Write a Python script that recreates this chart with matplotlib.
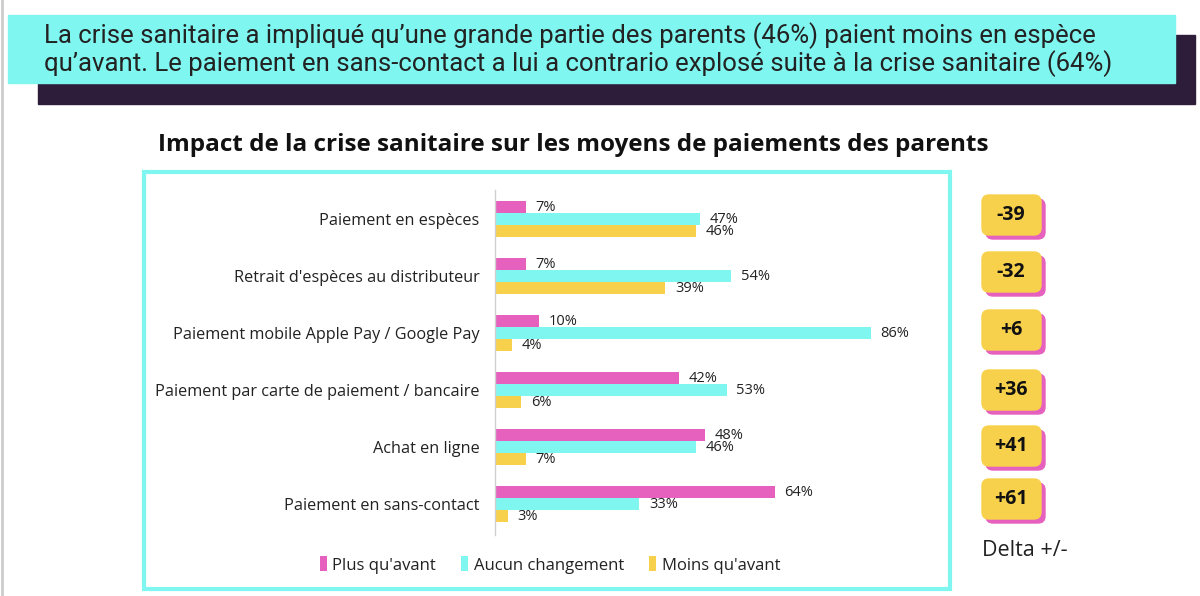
import matplotlib
matplotlib.use("Agg")
import matplotlib.pyplot as plt
from matplotlib.patches import Rectangle, FancyBboxPatch

# donnees
categories = [
    "Paiement en espèces",
    "Retrait d'espèces au distributeur",
    "Paiement mobile Apple Pay / Google Pay",
    "Paiement par carte de paiement / bancaire",
    "Achat en ligne",
    "Paiement en sans-contact",
]
plus = [7, 7, 10, 42, 48, 64]
aucun = [47, 54, 86, 53, 46, 33]
moins = [46, 39, 4, 6, 7, 3]
deltas = ["-39", "-32", "+6", "+36", "+41", "+61"]
series_names = ["Plus qu'avant", "Aucun changement", "Moins qu'avant"]

titre = "Impact de la crise sanitaire sur les moyens de paiements des parents"
bandeau = ["La crise sanitaire a impliqué qu’une grande partie des parents (46%) paient moins en espèce",
           "qu’avant. Le paiement en sans-contact a lui a contrario explosé suite à la crise sanitaire (64%)"]

ROSE = "#e660bd"
CYAN = "#80f6f1"
JAUNE = "#f8d14c"
SOMBRE = "#2d1d3a"
TEXTE = "#222222"

plt.rcParams['font.family'] = ['Open Sans', 'DejaVu Sans']

fig = plt.figure(figsize=(12, 5.96), dpi=100)

# fond en coordonnees pixel
bg = fig.add_axes([0, 0, 1, 1])
bg.set_xlim(0, 1200)
bg.set_ylim(596, 0)
bg.axis("off")

bg.plot([1.5, 1.5], [0, 596], color="#cccccc", lw=2)

# bandeau du haut
bg.add_patch(Rectangle((38, 35), 1157, 69, color=SOMBRE))
bg.add_patch(Rectangle((8, 15), 1167, 68, color=CYAN))
for i, ligne in enumerate(bandeau):
    bg.text(44, 36 + 28 * i, ligne, fontsize=18.5, color=TEXTE, va="center", ha="left",
            family=["Roboto", "DejaVu Sans"])

# titre
bg.text(573, 145, titre, fontsize=17.5, fontweight="bold", color="#111111",
        ha="center", va="center")

# cadre du graphique
bg.add_patch(Rectangle((144, 172), 806, 417, fill=False, ec=CYAN, lw=3))

# delta
ycat = [215, 272, 330, 390, 446, 499]
for yc, d in zip(ycat, deltas):
    bg.add_patch(FancyBboxPatch((986, yc - 16), 59, 40,
                                boxstyle="round,pad=0,rounding_size=7", color=ROSE))
    bg.add_patch(FancyBboxPatch((982, yc - 20), 59, 40,
                                boxstyle="round,pad=0,rounding_size=7", color=JAUNE))
    bg.text(1011, yc, d, fontsize=14, fontweight="bold", color="#111111",
            ha="center", va="center")
bg.text(982, 550, "Delta +/-", fontsize=15.5, color=TEXTE, ha="left", va="center")

# barres
ax = fig.add_axes([495 / 1200, 1 - 535 / 596, 437 / 1200, 345 / 596])
ax.patch.set_alpha(0)
pos = list(range(len(categories)))
h = 0.21
b1 = ax.barh([p - h for p in pos], plus, height=h, color=ROSE, label=series_names[0])
b2 = ax.barh(pos, aucun, height=h, color=CYAN, label=series_names[1])
b3 = ax.barh([p + h for p in pos], moins, height=h, color=JAUNE, label=series_names[2])
for bars, vals in ((b1, plus), (b2, aucun), (b3, moins)):
    for rect, v in zip(bars, vals):
        ax.text(rect.get_width() + 2.2, rect.get_y() + rect.get_height() / 2,
                f"{v}%", fontsize=10.5, color=TEXTE, ha="left", va="center")

ax.set_xlim(0, 100)
ax.set_ylim(5.54, -0.51)
ax.set_yticks(pos)
ax.set_yticklabels(categories, fontsize=11.7, color=TEXTE)
ax.tick_params(axis="y", length=0, pad=11)
ax.set_xticks([])
for s in ("top", "right", "bottom"):
    ax.spines[s].set_visible(False)
ax.spines["left"].set_color("#d0d0d0")
ax.spines["left"].set_linewidth(1)

leg = fig.legend(handles=[b1, b2, b3], labels=series_names, loc="center",
                 bbox_to_anchor=(550 / 1200, 1 - 565 / 596), ncol=3, frameon=False,
                 fontsize=12, handlelength=0.4, handleheight=1.0,
                 handletextpad=0.35, columnspacing=1.5)
for t in leg.get_texts():
    t.set_color(TEXTE)

fig.savefig("out.png", dpi=100)
